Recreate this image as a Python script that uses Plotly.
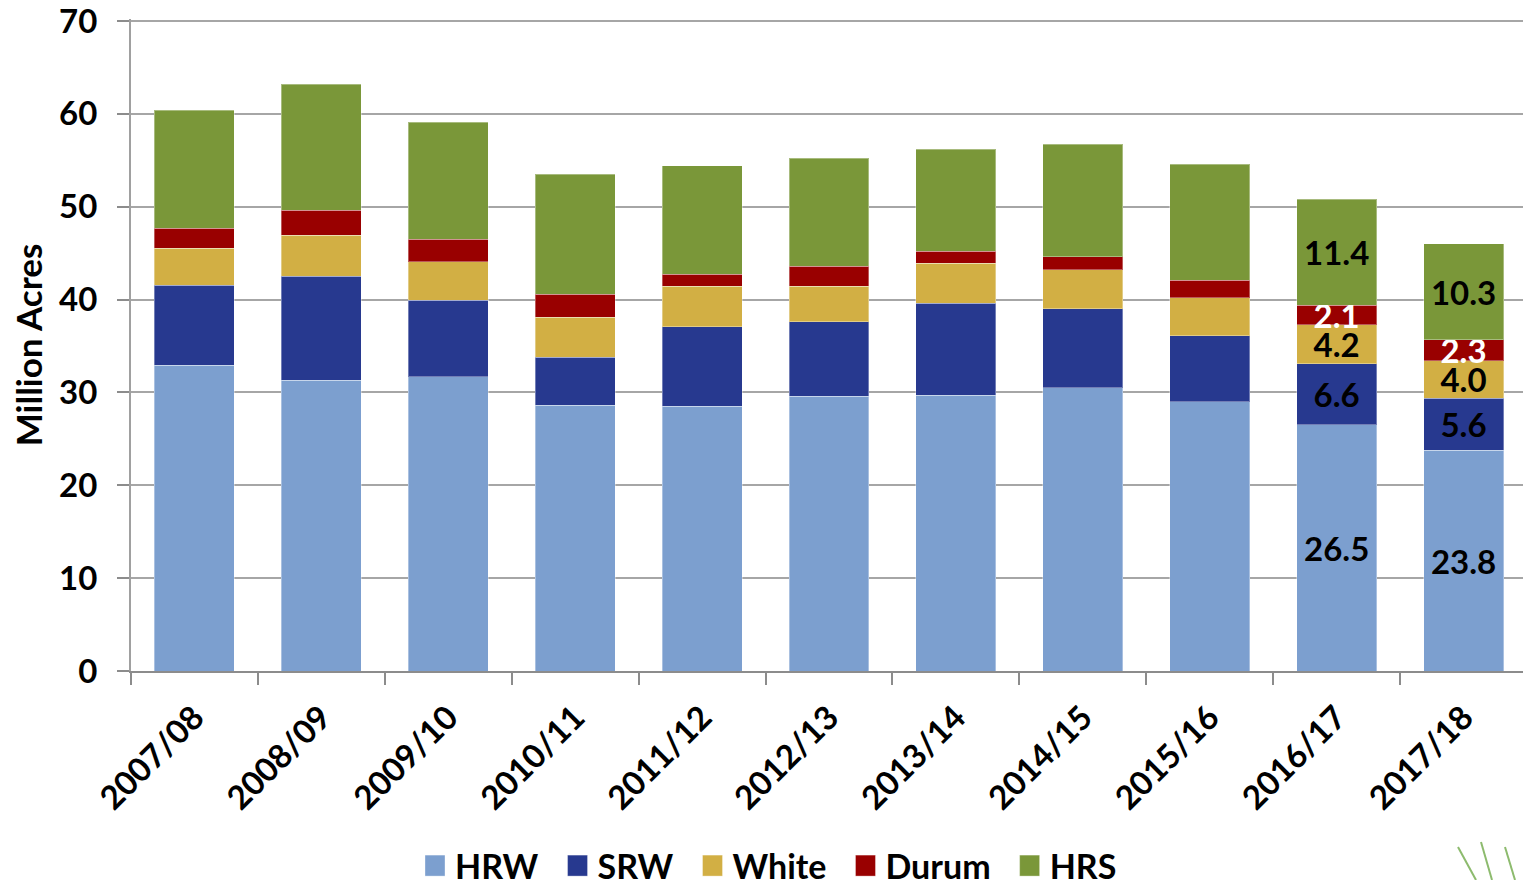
import plotly.graph_objects as go

years = ["2007/08","2008/09","2009/10","2010/11","2011/12","2012/13","2013/14","2014/15","2015/16","2016/17","2017/18"]
hrw = [32.95,31.3,31.7,28.6,28.5,29.6,29.7,30.5,29.0,26.5,23.8]
srw = [8.6,11.2,8.25,5.2,8.55,8.0,9.9,8.5,7.1,6.6,5.6]
white = [4.0,4.45,4.1,4.3,4.4,3.85,4.3,4.2,4.1,4.2,4.0]
durum = [2.15,2.65,2.45,2.5,1.3,2.15,1.3,1.4,1.9,2.1,2.3]
hrs = [12.7,13.6,12.6,12.9,11.65,11.6,11.0,12.15,12.5,11.4,10.3]
series = [("HRW",hrw,"#7C9FCF","#000000"),("SRW",srw,"#27398F","#000000"),
          ("White",white,"#D2AF44","#000000"),("Durum",durum,"#990000","#FFFFFF"),
          ("HRS",hrs,"#7A9739","#000000")]
labelled = {"2016/17","2017/18"}
FONT = "Lato"

fig = go.Figure()
for name, vals, col, tc in series:
    fig.add_trace(go.Bar(
        name=name, x=years, y=vals, marker=dict(color=col, line=dict(color="rgba(255,255,255,0.35)", width=1)),
        text=[f"{v:.1f}" if y in labelled else "" for y, v in zip(years, vals)],
        textposition="inside", insidetextanchor="middle", textangle=0, constraintext="none",
        textfont=dict(family=FONT, size=33, color=tc, weight=700),
        hoverinfo="x+y+name"))

fig.update_layout(
    barmode="stack", bargap=0.37, autosize=False, width=1527, height=900,
    margin=dict(l=131, r=0, t=19, b=229), paper_bgcolor="white", plot_bgcolor="white",
    font=dict(family=FONT, size=33, color="black", weight=700),
    legend=dict(orientation="h", x=(401-131)/1396, xanchor="left", y=-(837-671)/652, yanchor="top",
                traceorder="normal", font=dict(family=FONT, size=34, color="black", weight=700),
                itemwidth=44, tracegroupgap=0, bgcolor="rgba(0,0,0,0)"),
    xaxis=dict(type="category", categoryorder="array", categoryarray=years,
               range=[-0.5, 10.5], tickson="boundaries", ticks="outside", ticklen=12, tickwidth=2,
               tickcolor="#8C8C8C", showline=True, linecolor="#8C8C8C", linewidth=2, tickangle=-45,
               showgrid=False, ticklabelstandoff=12,
               tickfont=dict(family=FONT, size=33, color="black", weight=700)),
    yaxis=dict(range=[0, 70.215], tick0=0, dtick=10, ticks="outside", ticklen=12, tickwidth=2,
               tickcolor="#8C8C8C", showline=True, linecolor="#A0A0A0", linewidth=2,
               showgrid=True, gridcolor="#A6A6A6", gridwidth=2, zeroline=False, ticklabelstandoff=13,
               ticklabeloverflow="allow",
               tickfont=dict(family=FONT, size=33, color="black", weight=700),
               title=dict(text="Million Acres", standoff=6,
                          font=dict(family=FONT, size=35, color="black", weight=700))),
    shapes=[dict(type="line", xref="paper", yref="paper", x0=(a-131)/1396, x1=(b-131)/1396,
                 y0=(671-c)/652, y1=(671-880)/652, line=dict(color="#8DBB6E", width=2))
            for a, b, c in [(1458, 1476, 847), (1481, 1492, 842), (1505, 1515, 847)]],
)
fig.write_html("out.html", config={"displayModeBar": False}, post_script="""
document.body.style.margin='0';
document.documentElement.style.overflow='hidden';
document.body.style.overflow='hidden';
document.querySelectorAll('.legendpoints path').forEach(function(p){
  p.setAttribute('d','M17,10.5H-3V-10.5H17Z');
});
""")
